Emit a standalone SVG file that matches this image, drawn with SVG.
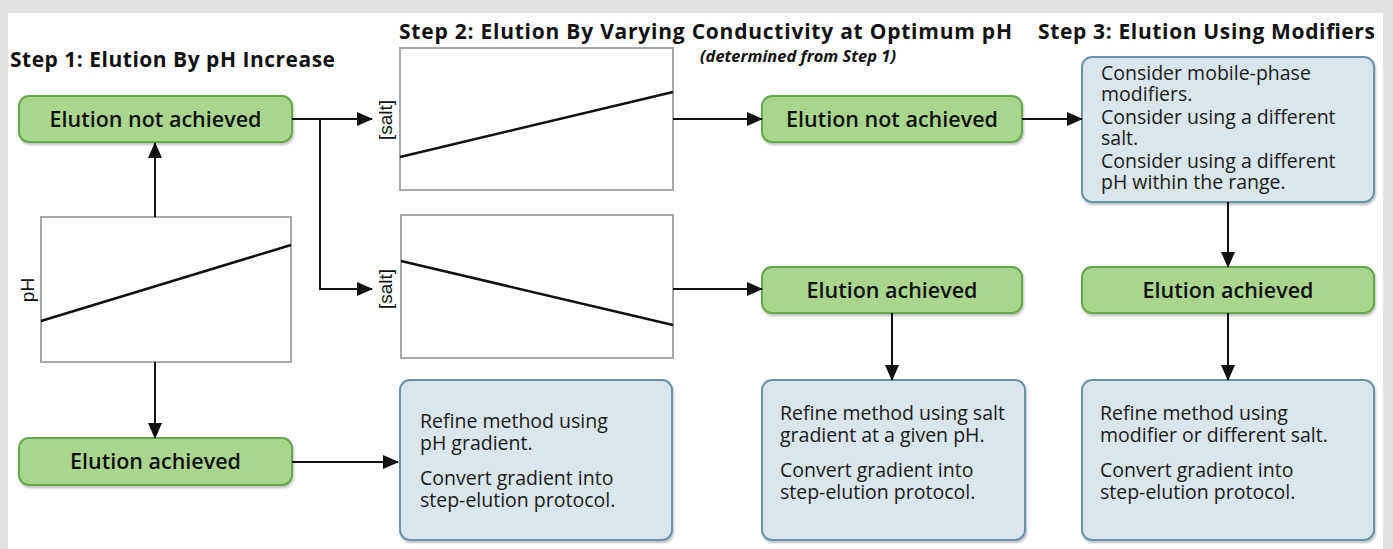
<svg xmlns="http://www.w3.org/2000/svg" width="1393" height="549" viewBox="0 0 1393 549">
  <style>
    .title { font-family: "Open Sans", "Liberation Sans", sans-serif; font-weight: 700; font-size: 21px; fill: #111; }
    .sub { font-family: "Open Sans", "Liberation Sans", sans-serif; font-weight: 700; font-style: italic; font-size: 16.5px; fill: #111; }
    .ok { fill: #a9d68f; stroke: #64a84b; stroke-width: 2; filter: url(#lift); }
    .note { fill: #dbe5ec; stroke: #6a93a8; stroke-width: 2; filter: url(#lift); }
    .lbl { font-family: "Open Sans", "Liberation Sans", sans-serif; font-weight: 600; font-size: 21.5px; fill: #111; text-anchor: middle; }
    .body { font-family: "Open Sans", "Liberation Sans", sans-serif; font-size: 19.5px; fill: #1a1a1a; }
    .chart { fill: #fff; stroke: #a8a8a8; stroke-width: 2; }
    .trace { stroke: #111; stroke-width: 2.5; fill: none; }
    .axis { font-family: "Liberation Sans", Arial, sans-serif; font-size: 19px; fill: #111; text-anchor: middle; }
    .wire { stroke: #111; stroke-width: 2; fill: none; }
  </style>
  <defs>
    <marker id="head" markerUnits="userSpaceOnUse" markerWidth="16" markerHeight="14" refX="15" refY="7" orient="auto">
      <path d="M0,0 L16,7 L0,14 Z" fill="#111"/>
    </marker>
    <filter id="lift" x="-5%" y="-10%" width="115%" height="130%">
      <feDropShadow dx="1" dy="2" stdDeviation="1.2" flood-color="#000" flood-opacity="0.25"/>
    </filter>
  </defs>

  <!-- page frame -->
  <rect x="0" y="0" width="1393" height="549" fill="#e1e2e4"/>
  <rect x="8" y="13" width="1375" height="536" fill="#ffffff"/>

  <!-- column headings -->
  <g id="headings">
    <text class="title" x="10" y="67" textLength="325">Step 1: Elution By pH Increase</text>
    <text class="title" x="399" y="39" textLength="613">Step 2: Elution By Varying Conductivity at Optimum pH</text>
    <text class="sub" x="798" y="62" text-anchor="middle">(determined from Step 1)</text>
    <text class="title" x="1038" y="39" textLength="337">Step 3: Elution Using Modifiers</text>
  </g>

  <!-- step 1 -->
  <g id="s1-not">
    <rect class="ok" x="19" y="96" width="273" height="46" rx="10"/>
    <text class="lbl" x="155.5" y="126.5">Elution not achieved</text>
  </g>
  <g id="s1-chart">
    <rect class="chart" x="41" y="217" width="250" height="145"/>
    <line class="trace" x1="41" y1="321" x2="291" y2="245"/>
    <text class="axis" transform="translate(34,290) rotate(-90)">pH</text>
  </g>
  <g id="s1-ok">
    <rect class="ok" x="19" y="438" width="273" height="47" rx="10"/>
    <text class="lbl" x="155.5" y="469">Elution achieved</text>
  </g>
  <g id="s1-refine">
    <rect class="note" x="400" y="380" width="272" height="160" rx="10"/>
    <text class="body" x="420" y="428">Refine method using</text>
    <text class="body" x="420" y="450">pH gradient.</text>
    <text class="body" x="420" y="485">Convert gradient into</text>
    <text class="body" x="420" y="507">step-elution protocol.</text>
  </g>

  <!-- step 2 -->
  <g id="s2-chart-up">
    <rect class="chart" x="400" y="48" width="273" height="142"/>
    <line class="trace" x1="400" y1="157" x2="673" y2="92"/>
    <text class="axis" transform="translate(392,120) rotate(-90)">[salt]</text>
  </g>
  <g id="s2-chart-down">
    <rect class="chart" x="401" y="215" width="272" height="143"/>
    <line class="trace" x1="401" y1="261" x2="673" y2="325"/>
    <text class="axis" transform="translate(392,289) rotate(-90)">[salt]</text>
  </g>
  <g id="s2-not">
    <rect class="ok" x="762" y="96" width="260" height="46" rx="10"/>
    <text class="lbl" x="892" y="126.5">Elution not achieved</text>
  </g>
  <g id="s2-ok">
    <rect class="ok" x="762" y="267" width="260" height="46" rx="10"/>
    <text class="lbl" x="892" y="297.5">Elution achieved</text>
  </g>
  <g id="s2-refine">
    <rect class="note" x="762" y="380" width="263" height="160" rx="10"/>
    <text class="body" x="780" y="420">Refine method using salt</text>
    <text class="body" x="780" y="442">gradient at a given pH.</text>
    <text class="body" x="780" y="477">Convert gradient into</text>
    <text class="body" x="780" y="499">step-elution protocol.</text>
  </g>

  <!-- step 3 -->
  <g id="s3-options">
    <rect class="note" x="1082" y="57" width="292" height="145" rx="10"/>
    <text class="body" x="1101" y="80">Consider mobile-phase</text>
    <text class="body" x="1101" y="101">modifiers.</text>
    <text class="body" x="1101" y="124">Consider using a different</text>
    <text class="body" x="1101" y="145">salt.</text>
    <text class="body" x="1101" y="168">Consider using a different</text>
    <text class="body" x="1101" y="189">pH within the range.</text>
  </g>
  <g id="s3-ok">
    <rect class="ok" x="1082" y="267" width="292" height="46" rx="10"/>
    <text class="lbl" x="1228" y="297.5">Elution achieved</text>
  </g>
  <g id="s3-refine">
    <rect class="note" x="1082" y="380" width="292" height="160" rx="10"/>
    <text class="body" x="1100" y="420">Refine method using</text>
    <text class="body" x="1100" y="442">modifier or different salt.</text>
    <text class="body" x="1100" y="477">Convert gradient into</text>
    <text class="body" x="1100" y="499">step-elution protocol.</text>
  </g>

  <!-- connectors -->
  <g id="connectors">
    <path class="wire" d="M155,217 V143" marker-end="url(#head)"/>
    <path class="wire" d="M155,362 V438" marker-end="url(#head)"/>
    <path class="wire" d="M292,462 H398" marker-end="url(#head)"/>
    <path class="wire" d="M292,119 H372" marker-end="url(#head)"/>
    <path class="wire" d="M320,119 V289 H372" marker-end="url(#head)"/>
    <path class="wire" d="M673,119 H762" marker-end="url(#head)"/>
    <path class="wire" d="M673,289 H762" marker-end="url(#head)"/>
    <path class="wire" d="M892,313 V380" marker-end="url(#head)"/>
    <path class="wire" d="M1022,119 H1082" marker-end="url(#head)"/>
    <path class="wire" d="M1228,202 V267" marker-end="url(#head)"/>
    <path class="wire" d="M1228,313 V380" marker-end="url(#head)"/>
  </g>
</svg>
